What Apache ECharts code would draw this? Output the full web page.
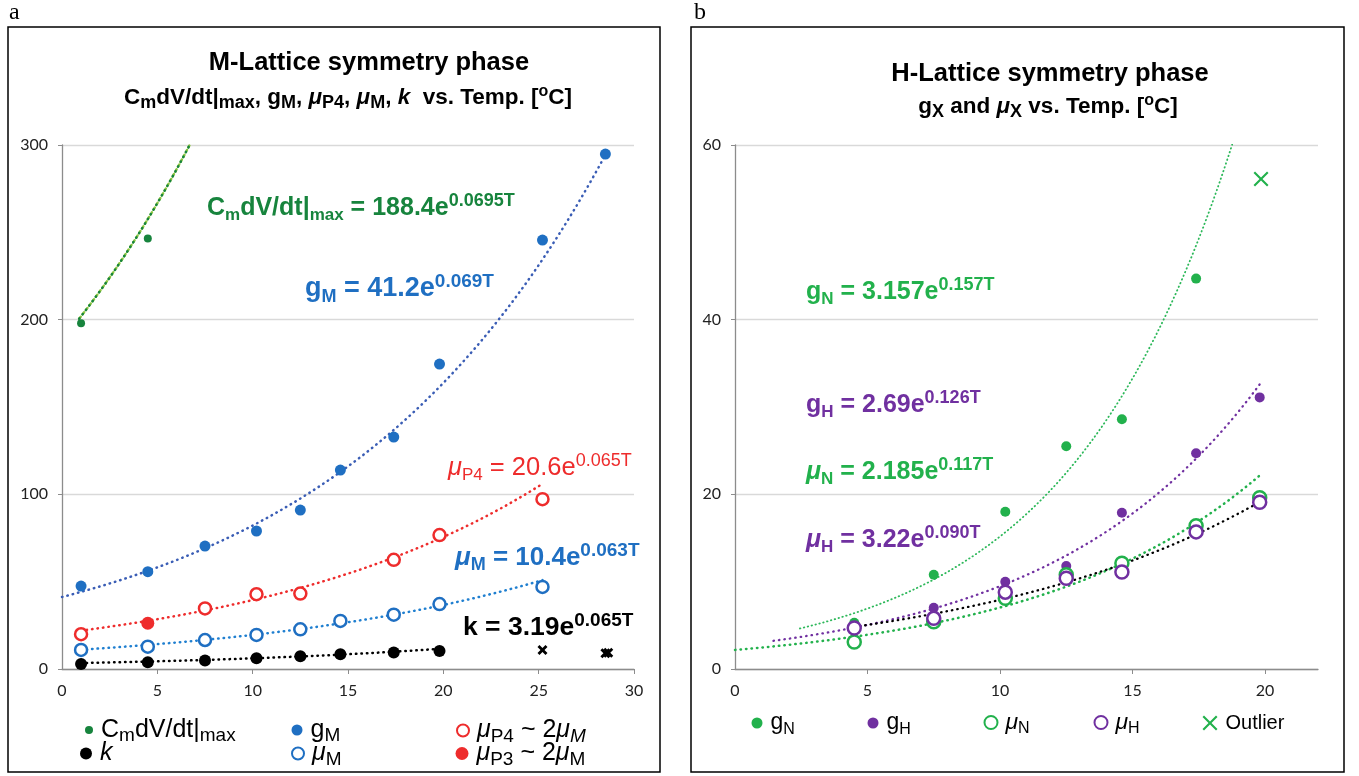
<!DOCTYPE html>
<html>
<head>
<meta charset="utf-8">
<title>Lattice symmetry phase</title>
<script src="https://cdn.jsdelivr.net/npm/echarts@6/dist/echarts.min.js"></script>
<style>
html, body { margin: 0; padding: 0; background: #fff; }
#chart { width: 1359px; height: 776px; }
</style>
</head>
<body>
<div id="chart"></div>
<script>
// ---------- panel a : M-Lattice ----------
const tempA = [1, 4.5, 7.5, 10.2, 12.5, 14.6, 17.4, 19.8, 25.2, 28.5]
const cmdvT = [1, 4.5]
const cmdv = [198, 246.5]
const gM = [47.5, 55.7, 70.4, 79, 91, 113.9, 132.8, 174.6, 245.6, 294.8]
const muP4T = [1, 7.5, 10.2, 12.5, 17.4, 19.8, 25.2]
const muP4 = [19.9, 34.7, 42.8, 43.2, 62.5, 76.7, 97.2]
const muP3T = [4.5]
const muP3 = [26.2]
const muM = [10.9, 12.8, 16.6, 19.5, 22.7, 27.5, 31.1, 37.2, 47]      // T = tempA[0..8]
const kVals = [2.9, 3.8, 4.8, 6.1, 7.3, 8.4, 9.4, 10.3]              // T = tempA[0..7]
const kOutT = [25.2, 28.5, 28.65]
const kOut = [10.9, 9.0, 9.3]

// trendlines: [coef, rate, T start, T end]  (y = coef * e^(rate*T), as printed)
const trCmdv = [188.4, 0.0695, 0.9, 6.68]
const trGM = [41.2, 0.069, 0, 28.5]
const trMuP4 = [20.6, 0.065, 1, 25.2]
const trMuM = [10.4, 0.063, 1, 25.2]
const trK = [3.19, 0.065, 1, 19.8]

// ---------- panel b : H-Lattice ----------
const tempB = [4.5, 7.5, 10.2, 12.5, 14.6, 17.4, 19.8]
const gN = [5.3, 10.8, 18, 25.5, 28.6, 44.7]                          // T = tempB[0..5]
const outT = [19.85]
const outV = [56.1]
const gH = [4.9, 7.0, 10.0, 11.8, 17.9, 24.7, 31.1]
const muN = [3.1, 5.4, 8.1, 10.8, 12.1, 16.4, 19.6]
const muH = [4.7, 5.8, 8.8, 10.4, 11.1, 15.7, 19.1]

const trGN = [3.157, 0.157, 2.45, 18.76]
const trGH = [2.69, 0.126, 1.45, 19.8]
const trMuN = [2.185, 0.117, 0, 19.8]
const trMuH = [3.22, 0.090, 4.5, 19.8]

const xTicksA = [0, 5, 10, 15, 20, 25, 30]
const xTicksB = [0, 5, 10, 15, 20]

// colours
const C_GREEN_A = '#17843d'
const C_BLUE_A = '#1f6fc2'
const C_BLUE_T = '#3a5db5'
const C_RED = '#ee2c2c'
const C_GREEN_B = '#22b14c'
const C_PURPLE = '#7030a0'

const FONT = '"Liberation Sans", Arial, sans-serif'
const XPATH = 'path://M0,1 L1,0 L5,4 L9,0 L10,1 L6,5 L10,9 L9,10 L5,6 L1,10 L0,9 L4,5 Z'
const XPATH_BOLD = 'path://M0,2 L2,0 L5,3 L8,0 L10,2 L7,5 L10,8 L8,10 L5,7 L2,10 L0,8 L3,5 Z'

function pts(xs, ys) {
  return ys.map((v, i) => [xs[i], v])
}

function trend(p) {
  const out = []
  for (let t = p[2]; t < p[3]; t += 0.2) out.push([t, p[0] * Math.exp(p[1] * t)])
  out.push([p[3], p[0] * Math.exp(p[1] * p[3])])
  return out
}

// rich styles for sub/superscripts (fill for graphic, color for legend)
function richSet(color, size, weight, subRatio) {
  const main = size
  const r = subRatio || 0.68
  const st = (o) => Object.assign({ fill: color, color: color, fontFamily: FONT, fontWeight: weight }, o)
  return {
    s: st({ fontSize: Math.round(main * r), lineHeight: Math.round(main * r), verticalAlign: 'bottom' }),
    sup: st({ fontSize: Math.round(main * 0.72), lineHeight: Math.round(main * 0.72), verticalAlign: 'top' }),
    mu: st({ fontSize: main, lineHeight: Math.round(main * 1.25), fontStyle: 'italic' }),
    it: st({ fontSize: main, lineHeight: Math.round(main * 1.25), fontStyle: 'italic' }),
    smu: st({ fontSize: Math.round(main * r), lineHeight: Math.round(main * r), verticalAlign: 'bottom', fontStyle: 'italic' })
  }
}

function label(x, y, text, color, size, opts) {
  opts = opts || {}
  const weight = opts.weight || 'bold'
  return {
    type: 'text',
    x: x,
    y: y,
    silent: true,
    style: {
      text: text,
      fill: color,
      fontFamily: opts.family || FONT,
      fontSize: size,
      fontWeight: weight,
      lineHeight: Math.round(size * 1.25),
      align: opts.align || 'left',
      verticalAlign: 'middle',
      rich: richSet(color, size, weight, opts.sub)
    }
  }
}

function scatter(name, data, axis, size, color, hollow, symbol) {
  return {
    name: name,
    type: 'scatter',
    xAxisIndex: axis,
    yAxisIndex: axis,
    data: data,
    symbol: symbol || 'circle',
    symbolSize: size,
    z: 5,
    itemStyle: hollow
      ? { color: '#fff', borderColor: color, borderWidth: 2.5, opacity: 1 }
      : { color: color, opacity: 1 }
  }
}

function trendLine(name, p, axis, color, width, dash) {
  return {
    name: name,
    type: 'line',
    xAxisIndex: axis,
    yAxisIndex: axis,
    data: trend(p),
    showSymbol: false,
    symbol: 'none',
    silent: true,
    z: 3,
    lineStyle: { color: color, width: width, type: dash || [0.5, 5], cap: 'round' }
  }
}

const legendNames = {
  cmdv: 'C{s|m}dV/dt|{s|max}',
  gM: 'g{s|M}',
  muP4: '{mu|μ}{s|P4} ~ 2{mu|μ}{smu|M}',
  k: '{it|k}',
  muM: '{mu|μ}{s|M}',
  muP3: '{mu|μ}{s|P3} ~ 2{mu|μ}{s|M}',
  gN: 'g{s|N}',
  gH: 'g{s|H}',
  muN: '{mu|μ}{s|N}',
  muH: '{mu|μ}{s|H}',
  Outlier: 'Outlier'
}

function legendItem(name, cx, cy, size, fontSize, subRatio) {
  const fs = fontSize || 21
  return {
    data: [name],
    left: cx - size / 2,
    top: cy - 15,
    padding: 0,
    itemWidth: size,
    itemHeight: size,
    selectedMode: false,
    formatter: (n) => legendNames[n],
    textStyle: {
      fontFamily: FONT,
      fontSize: fs,
      color: '#000',
      lineHeight: 30,
      padding: [0, 0, 0, 3],
      rich: richSet('#000', fs, 'normal', subRatio)
    }
  }
}

function xAxisOf(grid, max, ticks) {
  return {
    gridIndex: grid,
    type: 'value',
    min: 0,
    max: max,
    interval: 5,
    splitLine: { show: false },
    axisLine: { lineStyle: { color: '#8c8c8c', width: 1.3 } },
    axisTick: { show: true, length: 5, lineStyle: { color: '#8c8c8c' }, customValues: ticks.filter(t => t > 0) },
    axisLabel: { customValues: ticks, margin: 14, fontFamily: 'Lato, "Open Sans", sans-serif', fontSize: 16, color: '#222' }
  }
}

function yAxisOf(grid, max, step) {
  return {
    gridIndex: grid,
    type: 'value',
    min: 0,
    max: max,
    interval: step,
    axisLine: { show: true, lineStyle: { color: '#8c8c8c', width: 1.3 } },
    axisTick: { show: true, length: 4, lineStyle: { color: '#8c8c8c' } },
    splitLine: { lineStyle: { color: '#d9d9d9', width: 1.3 } },
    axisLabel: { margin: 14, fontFamily: 'Lato, "Open Sans", sans-serif', fontSize: 16, color: '#222' }
  }
}

const chart = echarts.init(document.getElementById('chart'), null, { renderer: 'canvas' })

const option = {
  animation: false,
  backgroundColor: '#fff',
  grid: [
    { left: 62, top: 145, width: 572, height: 524 },
    { left: 735, top: 145, width: 583, height: 524 }
  ],
  xAxis: [xAxisOf(0, 30, xTicksA), xAxisOf(1, 22, xTicksB)],
  yAxis: [yAxisOf(0, 300, 100), yAxisOf(1, 60, 20)],
  legend: [
    legendItem('cmdv', 89, 730, 8, 25, 0.75),
    legendItem('k', 86, 753, 12, 25, 0.75),
    legendItem('gM', 297, 730, 11, 25, 0.75),
    legendItem('muM', 297, 753, 12, 25, 0.75),
    legendItem('muP4', 462, 730, 12, 25, 0.75),
    legendItem('muP3', 462, 753, 13, 25, 0.75),
    legendItem('gN', 757, 723, 11, 23),
    legendItem('gH', 873, 723, 11, 23),
    legendItem('muN', 990, 723, 13, 23),
    legendItem('muH', 1100, 723, 13, 23),
    legendItem('Outlier', 1210, 723, 15, 20)
  ],
  series: [
    // panel a trendlines
    trendLine('tr-cmdv-light', trCmdv, 0, '#8cc63f', 2.5, [2.5, 3]),
    trendLine('tr-cmdv', trCmdv, 0, C_GREEN_A, 2.5),
    trendLine('tr-gM', trGM, 0, C_BLUE_T, 2.5),
    trendLine('tr-muP4', trMuP4, 0, C_RED, 2.5),
    trendLine('tr-muM', trMuM, 0, '#1f7fd0', 2.5),
    trendLine('tr-k', trK, 0, '#000', 2.5),
    // panel a points
    scatter('cmdv', pts(cmdvT, cmdv), 0, 8, C_GREEN_A, false),
    scatter('gM', pts(tempA, gM), 0, 11, C_BLUE_A, false),
    scatter('muP4', pts(muP4T, muP4), 0, 12, C_RED, true),
    scatter('muP3', pts(muP3T, muP3), 0, 13, C_RED, false),
    scatter('muM', pts(tempA, muM), 0, 12, C_BLUE_A, true),
    scatter('k', pts(tempA, kVals), 0, 12, '#000', false),
    scatter('k-out', pts(kOutT, kOut), 0, 10, '#000', false, XPATH_BOLD),
    // panel b trendlines
    trendLine('tr-gN', trGN, 1, '#2db85a', 1.8, [0.5, 3.5]),
    trendLine('tr-gH', trGH, 1, C_PURPLE, 2.3),
    trendLine('tr-muN', trMuN, 1, C_GREEN_B, 2.5),
    trendLine('tr-muH', trMuH, 1, '#000', 2.3),
    // panel b points
    scatter('gN', pts(tempB, gN), 1, 10, C_GREEN_B, false),
    scatter('gH', pts(tempB, gH), 1, 10, C_PURPLE, false),
    scatter('muN', pts(tempB, muN), 1, 13, C_GREEN_B, true),
    scatter('muH', pts(tempB, muH), 1, 13, C_PURPLE, true),
    scatter('Outlier', pts(outT, outV), 1, 15, C_GREEN_B, false, XPATH)
  ],
  graphic: [
    // panel frames
    { type: 'rect', silent: true, shape: { x: 8, y: 27, width: 652, height: 745 }, style: { fill: 'none', stroke: '#000', lineWidth: 1.5 } },
    { type: 'rect', silent: true, shape: { x: 691, y: 27, width: 653, height: 745 }, style: { fill: 'none', stroke: '#000', lineWidth: 1.5 } },
    label(9, 13, 'a', '#000', 24, { weight: 'normal', family: '"Liberation Serif", serif' }),
    label(694, 13, 'b', '#000', 24, { weight: 'normal', family: '"Liberation Serif", serif' }),
    // titles
    label(369, 63, 'M-Lattice symmetry phase', '#000', 25.5, { align: 'center' }),
    label(348, 98, 'C{s|m}dV/dt|{s|max}, g{s|M}, {mu|μ}{s|P4}, {mu|μ}{s|M}, {it|k}  vs. Temp. [{sup|o}C]', '#000', 22.5, { align: 'center', sub: 0.78 }),
    label(1050, 74, 'H-Lattice symmetry phase', '#000', 25.5, { align: 'center' }),
    label(1048, 107, 'g{s|X} and {mu|μ}{s|X} vs. Temp. [{sup|o}C]', '#000', 22.5, { align: 'center', sub: 0.78 }),
    // panel a equations
    label(207, 208, 'C{s|m}dV/dt|{s|max} = 188.4e{sup|0.0695T}', C_GREEN_A, 25),
    label(305, 289, 'g{s|M} = 41.2e{sup|0.069T}', C_BLUE_A, 27),
    label(448, 468, '{mu|μ}{s|P4} = 20.6e{sup|0.065T}', C_RED, 25.5, { weight: 'normal' }),
    label(455, 558, '{mu|μ}{s|M} = 10.4e{sup|0.063T}', C_BLUE_A, 26),
    label(463, 628, 'k = 3.19e{sup|0.065T}', '#000', 26.5),
    // panel b equations
    label(806, 292, 'g{s|N} = 3.157e{sup|0.157T}', C_GREEN_B, 25),
    label(806, 405, 'g{s|H} = 2.69e{sup|0.126T}', C_PURPLE, 25),
    label(806, 472, '{mu|μ}{s|N} = 2.185e{sup|0.117T}', C_GREEN_B, 25),
    label(806, 540, '{mu|μ}{s|H} = 3.22e{sup|0.090T}', C_PURPLE, 25)
  ]
}

chart.setOption(option)
</script>
</body>
</html>
